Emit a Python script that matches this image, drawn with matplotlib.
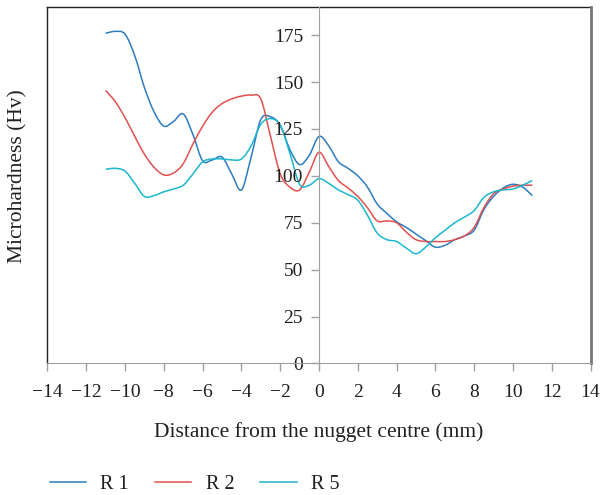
import matplotlib
matplotlib.use('Agg')
import numpy as np
import matplotlib.pyplot as plt
from matplotlib.path import Path
from matplotlib.patches import PathPatch
from matplotlib.lines import Line2D

plt.rcParams['font.family'] = ['Liberation Serif', 'DejaVu Serif']

# distance from the nugget centre (mm), every 0.5 mm
dist = [-11, -10.5, -10, -9.5, -9, -8.5, -8, -7.5, -7, -6.5, -6, -5.5, -5, -4.5,
        -4, -3.5, -3, -2.5, -2, -1.5, -1, -0.5, 0, 0.5, 1, 1.5, 2, 2.5, 3, 3.5,
        4, 4.5, 5, 5.5, 6, 6.5, 7, 7.5, 8, 8.5, 9, 9.5, 10, 10.5, 11]

r1 = [176, 177, 175.5, 164, 147, 134, 126.5, 129, 133, 122, 108, 108.5, 110, 101,
      92.5, 110, 130, 131.5, 127, 114, 106, 111, 121, 116, 107.5, 104, 100, 94, 85, 80,
      75.5, 72.5, 69, 65.5, 62, 63, 66, 68, 71, 82, 89, 93.5, 95.5, 94, 89.5]

r2 = [145.5, 139.5, 131, 121, 111.5, 104.5, 100.5, 101.5, 106.5, 117, 126.5, 134, 138.5, 141,
      142.5, 143, 141, 121, 101, 94, 92.5, 102, 112.5, 105, 97.5, 93.5, 89, 83, 76, 76,
      75, 70, 66, 65, 65, 65, 66, 68, 72.5, 83, 90.5, 93, 94.5, 95, 95]

r5 = [103.5, 104, 102.5, 96, 89, 89.5, 91.5, 93, 95, 101, 107.5, 109, 109, 108.5,
      109, 116, 127.5, 130.5, 127, 112, 95.5, 95, 98.5, 96, 92.5, 90, 87, 79, 69.5, 66,
      65, 61.5, 58.5, 62, 67, 71, 75, 78, 81.5, 88.5, 91.5, 92.5, 93, 95, 97.5]

labels = ['R 1', 'R 2', 'R 5']
colors = ['#2b7cc0', '#e0504f', '#1bb7cc']

x_ticks = np.arange(-14, 15, 2)
y_ticks = np.arange(0, 176, 25)


def smooth_path(x, y):
    # cubic Bezier segments through every point (Catmull-Rom tangents)
    pts = np.column_stack([x, y]).astype(float)
    ext = np.vstack([pts[0], pts, pts[-1]])
    verts = [pts[0]]
    codes = [Path.MOVETO]
    for i in range(len(pts) - 1):
        p0, p1, p2, p3 = ext[i], ext[i + 1], ext[i + 2], ext[i + 3]
        verts += [p1 + (p2 - p0) / 6, p2 - (p3 - p1) / 6, p2]
        codes += [Path.CURVE4] * 3
    return Path(verts, codes)


fig = plt.figure(figsize=(6.12, 4.95), dpi=100)
ax = fig.add_axes([0.0776, 0.2657, 0.8873, 0.7202])

for ys, c in zip([r1, r2, r5], colors):
    ax.add_patch(PathPatch(smooth_path(dist, ys), facecolor='none', edgecolor=c, lw=1.1))

ax.set_xlim(-14, 14)
ax.set_ylim(0, 190)

# y axis sits on x = 0, frame drawn separately
ax.spines['left'].set_position(('data', 0))
ax.spines['left'].set_color('#a0a0a0')
ax.spines['bottom'].set_color('#a0a0a0')
ax.spines['top'].set_visible(False)
ax.spines['right'].set_visible(False)
ax.add_line(Line2D([0, 0], [0, 1], transform=ax.transAxes, color='#222222', lw=1.0, clip_on=False))
ax.add_line(Line2D([0, 1], [1, 1], transform=ax.transAxes, color='#222222', lw=1.0, clip_on=False))
ax.add_line(Line2D([1, 1], [0, 1], transform=ax.transAxes, color='#777777', lw=2.0, clip_on=False))

ax.set_xticks(x_ticks)
ax.set_xticklabels([f'\u2212{abs(v)}' if v < 0 else str(v) for v in x_ticks])
ax.set_yticks(y_ticks)
ax.tick_params(axis='both', direction='out', length=5.5, width=1, color='#a0a0a0',
               labelsize=14, labelcolor='#231f20')
ax.tick_params(axis='x', pad=9)
ax.tick_params(axis='y', pad=6)

fig.text(0.5 * (47.5 + 590.5) / 612, 1 - 432 / 495, 'Distance from the nugget centre (mm)',
         ha='center', va='center', fontsize=15.5, color='#231f20')
fig.text(18 / 612, 1 - 176 / 495, 'Microhardness (Hv)', rotation=90,
         ha='center', va='center', fontsize=15.5, color='#231f20')

handles = [Line2D([], [], color=c, lw=1.1) for c in colors]
fig.legend(handles, labels, loc='center left', bbox_to_anchor=(40 / 612, 1 - 484 / 495),
           ncol=3, frameon=False, fontsize=14.5, handlelength=1.8, handletextpad=0.7,
           columnspacing=1.3, borderpad=0, labelcolor='#231f20')

fig.savefig('out.png', dpi=100)
